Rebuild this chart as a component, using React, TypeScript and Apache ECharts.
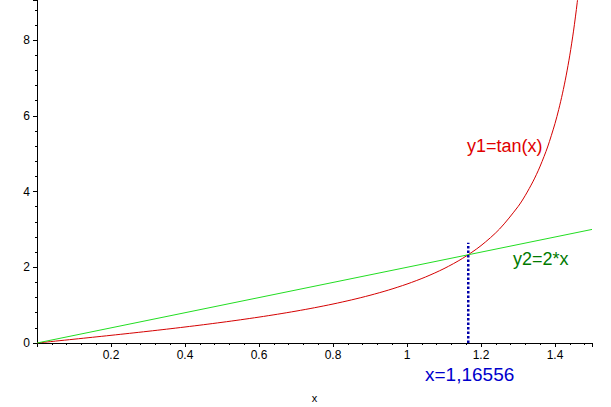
import React, { useEffect, useRef } from "react";
import * as echarts from "echarts";

const tanX = [0, 0.05, 0.1, 0.15, 0.2, 0.25, 0.3, 0.35, 0.4, 0.45, 0.5, 0.55, 0.6, 0.65, 0.7, 0.75, 0.8, 0.85, 0.9, 0.95, 1.0, 1.05, 1.1, 1.15, 1.2, 1.25, 1.3, 1.32, 1.34, 1.35, 1.36, 1.38, 1.4, 1.41, 1.42, 1.43, 1.44, 1.45, 1.46, 1.47];
const tanY = [0, 0.05, 0.1003, 0.1511, 0.2027, 0.2553, 0.3093, 0.365, 0.4228, 0.4831, 0.5463, 0.6131, 0.6841, 0.7602, 0.8423, 0.9316, 1.0296, 1.1383, 1.2602, 1.3984, 1.5574, 1.7433, 1.9648, 2.2345, 2.5722, 3.0096, 3.6021, 3.903, 4.2556, 4.4552, 4.6734, 5.177, 5.798, 6.165, 6.581, 7.0555, 7.602, 8.238, 8.989, 9.887];

// y2 = 2*x
const lineX = [0, 1.5];
const lineY = [0, 3];

// intersection marker
const crossX = 1.16556;
const markerY = [0, 2.65];

const xTicks = [0.2, 0.4, 0.6, 0.8, 1, 1.2, 1.4];
const yTicks = [0, 2, 4, 6, 8];

const labelTan = "y1=tan(x)";
const labelLine = "y2=2*x";
const labelCross = "x=1,16556";

export default function App() {
  const ref = useRef<HTMLDivElement>(null);
  useEffect(() => {
    if (!ref.current) return;
    const chart = echarts.init(ref.current, null, { renderer: "svg" });
    const font = "Arial, 'Liberation Sans', sans-serif";
    chart.setOption({
      animation: false,
      backgroundColor: "#ffffff",
      grid: { left: 37, top: 0, right: 19, bottom: 64, containLabel: false, outerBoundsMode: "none" },
      xAxis: {
        type: "value",
        min: 0,
        max: 1.5,
        interval: 0.2,
        name: "x",
        nameLocation: "middle",
        nameGap: 49,
        nameTextStyle: { fontSize: 11, color: "#000", fontFamily: font },
        axisLine: { onZero: false, lineStyle: { color: "#000", width: 1 } },
        axisTick: { show: true, length: 4, lineStyle: { color: "#000" } },
        minorTick: { show: true, splitNumber: 5, length: 2, lineStyle: { color: "#000" } },
        splitLine: { show: false },
        axisLabel: {
          margin: 6,
          fontSize: 12,
          color: "#000",
          fontFamily: font,
          showMinLabel: false,
          showMaxLabel: false,
          formatter: (v: number) => {
            const m = xTicks.find((t) => Math.abs(t - v) < 1e-6);
            return m === undefined ? "" : String(m);
          },
        },
      },
      yAxis: {
        type: "value",
        min: 0,
        max: 9.06,
        interval: 2,
        axisLine: { show: true, lineStyle: { color: "#000", width: 1 } },
        axisTick: { show: true, length: 4, lineStyle: { color: "#000" } },
        minorTick: { show: true, splitNumber: 5, length: 2, lineStyle: { color: "#000" } },
        splitLine: { show: false },
        axisLabel: {
          margin: 7,
          fontSize: 12,
          color: "#000",
          fontFamily: font,
          showMaxLabel: false,
          formatter: (v: number) => {
            const m = yTicks.find((t) => Math.abs(t - v) < 1e-6);
            return m === undefined ? "" : String(m);
          },
        },
      },
      series: [
        {
          type: "line",
          data: tanX.map((x, i) => [x, tanY[i]]),
          smooth: 0.3,
          showSymbol: false,
          clip: true,
          lineStyle: { color: "#d40000", width: 1 },
          itemStyle: { color: "#d40000" },
        },
        {
          type: "line",
          data: lineX.map((x, i) => [x, lineY[i]]),
          showSymbol: false,
          lineStyle: { color: "#22dd22", width: 1 },
        },
        {
          type: "line",
          data: markerY.map((y) => [crossX, y]),
          showSymbol: false,
          lineStyle: { color: "#0000aa", width: 2.5, type: [2.5, 2] },
        },
      ],
      graphic: [
        {
          type: "text",
          left: 467,
          top: 137,
          style: { text: labelTan, fill: "#e00000", fontSize: 18, fontFamily: font },
        },
        {
          type: "text",
          left: 513,
          top: 250,
          style: { text: labelLine, fill: "#007a00", fontSize: 18, fontFamily: font },
        },
        {
          type: "text",
          left: 425,
          top: 365,
          style: { text: labelCross, fill: "#0000cc", fontSize: 19, fontFamily: font },
        },
      ],
    });
    return () => chart.dispose();
  }, []);
  return (
    <div
      ref={ref}
      style={{ position: "fixed", left: 0, top: 0, width: 611, height: 407, background: "#fff" }}
    />
  );
}
